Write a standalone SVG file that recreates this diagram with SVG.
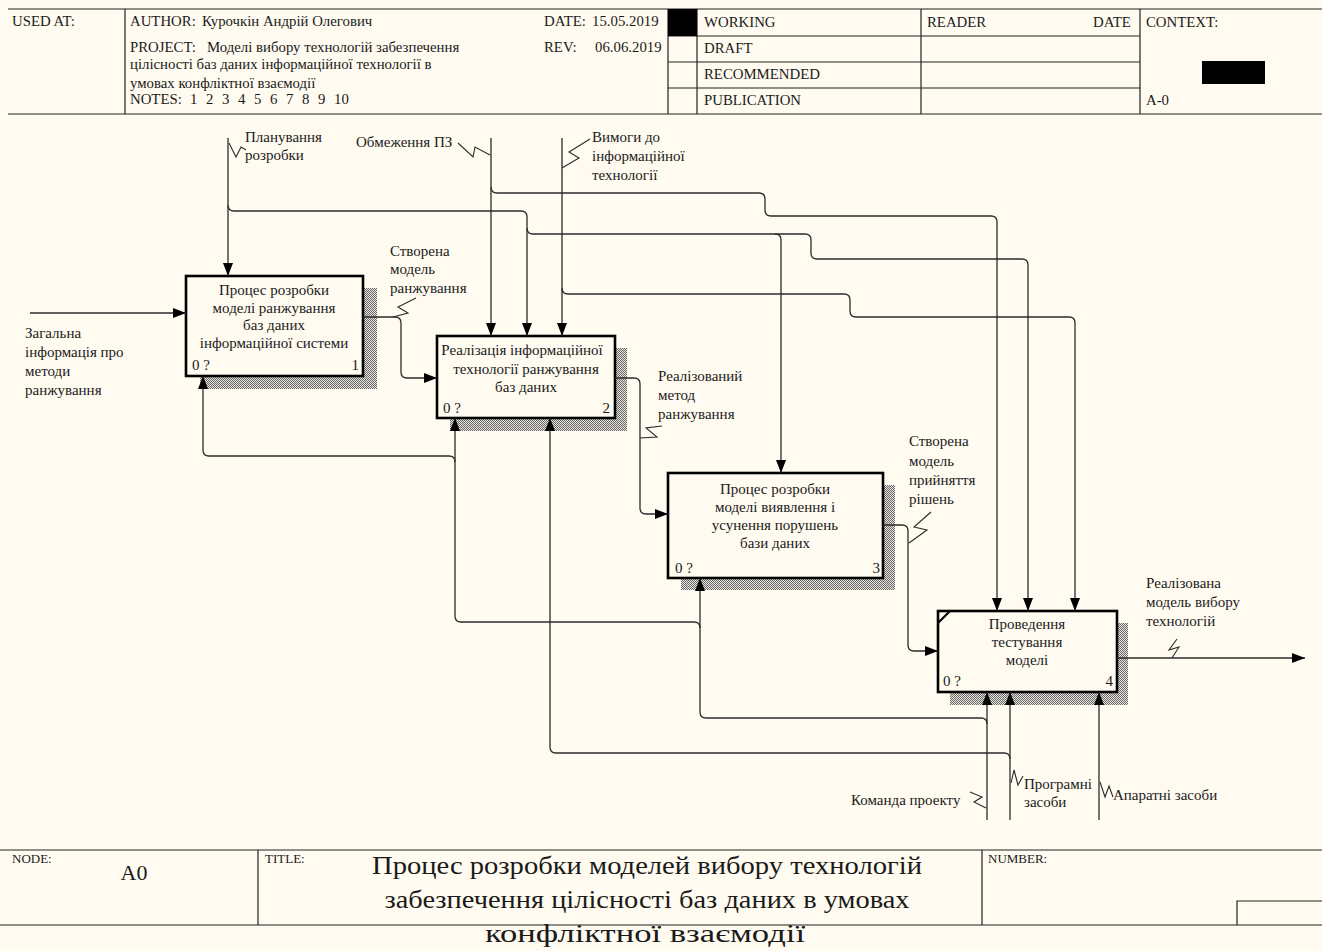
<svg xmlns="http://www.w3.org/2000/svg" width="1322" height="951" viewBox="0 0 1322 951">
  <defs>
    <style>
      .t { font-family: "Liberation Serif", "Times New Roman", serif; font-size: 15px; fill: #1a1a1a; }
      .hd { font-family: "Liberation Serif", "Times New Roman", serif; font-size: 14.8px; fill: #1a1a1a; }
      .ft { font-family: "Liberation Serif", "Times New Roman", serif; font-size: 13px; fill: #1a1a1a; }
      .ttl { font-family: "Liberation Serif", "Times New Roman", serif; font-size: 25px; fill: #1a1a1a; text-anchor: middle; }
      .c { text-anchor: middle; }
      .e { text-anchor: end; }
      .frame { stroke: #222; stroke-width: 1.2; fill: none; }
      .box { fill: #fffbf0; stroke: #000; stroke-width: 2.6; }
      .shadow { fill: url(#hatch); }
      .arrow { fill: none; stroke: #2b2b2b; stroke-width: 1.3; }
      .sq { fill: none; stroke: #2b2b2b; stroke-width: 1.1; }
    </style>
    <pattern id="hatch" width="2" height="2" patternUnits="userSpaceOnUse">
      <rect width="2" height="2" fill="#e6e3dc"/>
      <rect width="1" height="1" fill="#6a6a6a"/>
      <rect x="1" y="1" width="1" height="1" fill="#6a6a6a"/>
    </pattern>
    <marker id="ah" markerWidth="13" markerHeight="10" refX="13" refY="5" orient="auto" markerUnits="userSpaceOnUse">
      <path d="M0,0 L13,5 L0,10 z" fill="#000"/>
    </marker>
  </defs>

  <rect width="1322" height="951" fill="#fffbf0"/>

  <!-- header frame -->
  <g id="header">
    <line class="frame" x1="8" y1="9" x2="1322" y2="9"/>
    <line class="frame" x1="8" y1="114" x2="1322" y2="114"/>
    <line class="frame" x1="125" y1="9" x2="125" y2="114"/>
    <line class="frame" x1="668" y1="9" x2="668" y2="114"/>
    <line class="frame" x1="697" y1="9" x2="697" y2="114"/>
    <line class="frame" x1="921" y1="9" x2="921" y2="114"/>
    <line class="frame" x1="1140" y1="9" x2="1140" y2="114"/>
    <line class="frame" x1="668" y1="36" x2="1140" y2="36"/>
    <line class="frame" x1="668" y1="62" x2="1140" y2="62"/>
    <line class="frame" x1="668" y1="88" x2="1140" y2="88"/>
    <rect x="668" y="9" width="29" height="27" fill="#000"/>
    <rect x="1202" y="61" width="63" height="23" fill="#000"/>

    <text class="hd" x="12" y="26">USED AT:</text>
    <text class="hd" x="130" y="26">AUTHOR:</text>
    <text class="hd" x="202" y="26">Курочкін Андрій Олегович</text>
    <text class="hd" x="130" y="52">PROJECT:</text>
    <text class="hd" x="207" y="52">Моделі вибору технологій забезпечення</text>
    <text class="hd" x="130" y="69">цілісності баз даних інформаційної технології в</text>
    <text class="hd" x="130" y="88">умовах конфліктної взаємодії</text>
    <text class="hd" x="130" y="104">NOTES:</text>
    <text class="hd" y="104"><tspan x="190">1</tspan><tspan x="206">2</tspan><tspan x="222">3</tspan><tspan x="238">4</tspan><tspan x="254">5</tspan><tspan x="270">6</tspan><tspan x="286">7</tspan><tspan x="302">8</tspan><tspan x="318">9</tspan><tspan x="334">10</tspan></text>
    <text class="hd" x="544" y="26">DATE:</text>
    <text class="hd" x="592" y="26">15.05.2019</text>
    <text class="hd" x="544" y="52">REV:</text>
    <text class="hd" x="595" y="52">06.06.2019</text>
    <text class="hd" x="704" y="27">WORKING</text>
    <text class="hd" x="704" y="53">DRAFT</text>
    <text class="hd" x="704" y="79">RECOMMENDED</text>
    <text class="hd" x="704" y="105">PUBLICATION</text>
    <text class="hd" x="927" y="27">READER</text>
    <text class="hd" x="1093" y="27">DATE</text>
    <text class="hd" x="1146" y="27">CONTEXT:</text>
    <text class="hd" x="1146" y="105">A-0</text>
  </g>

  <!-- activity 1 -->
  <g id="node-a1">
    <rect class="shadow" x="200" y="288" width="177" height="101"/>
    <rect class="box" x="186" y="276" width="177" height="100"/>
    <text class="t c" x="274" y="295">Процес розробки</text>
    <text class="t c" x="274" y="313">моделі ранжування</text>
    <text class="t c" x="274" y="330">баз даних</text>
    <text class="t c" x="274" y="348">інформаційної системи</text>
    <text class="t" x="192" y="370">0 ?</text>
    <text class="t e" x="359" y="370">1</text>
  </g>

  <!-- activity 2 -->
  <g id="node-a2">
    <rect class="shadow" x="450" y="348" width="177" height="83"/>
    <rect class="box" x="437" y="336" width="178" height="82"/>
    <text class="t c" x="522" y="355">Реалізація інформаційної</text>
    <text class="t c" x="526" y="374">технології ранжування</text>
    <text class="t c" x="526" y="392">баз даних</text>
    <text class="t" x="443" y="413">0 ?</text>
    <text class="t e" x="610" y="413">2</text>
  </g>

  <!-- activity 3 -->
  <g id="node-a3">
    <rect class="shadow" x="681" y="485" width="214" height="105"/>
    <rect class="box" x="668" y="473" width="215" height="105"/>
    <text class="t c" x="775" y="494">Процес розробки</text>
    <text class="t c" x="775" y="512">моделі виявлення і</text>
    <text class="t c" x="775" y="530">усунення порушень</text>
    <text class="t c" x="775" y="548">бази даних</text>
    <text class="t" x="675" y="573">0 ?</text>
    <text class="t e" x="880" y="573">3</text>
  </g>

  <!-- activity 4 -->
  <g id="node-a4">
    <rect class="shadow" x="950" y="623" width="178" height="82"/>
    <rect class="box" x="938" y="611" width="179" height="81"/>
    <line x1="938" y1="623" x2="950" y2="611" stroke="#000" stroke-width="2.2"/>
    <text class="t c" x="1027" y="629">Проведення</text>
    <text class="t c" x="1027" y="647">тестування</text>
    <text class="t c" x="1027" y="665">моделі</text>
    <text class="t" x="943" y="686">0 ?</text>
    <text class="t e" x="1113" y="686">4</text>
  </g>

  <!-- connectors, drawn over the box shadows -->
  <g id="connectors">
    <!-- input -->
    <path class="arrow" d="M30,313 H186" marker-end="url(#ah)"/>
    <!-- Планування розробки -->
    <path class="arrow" d="M228,138 V276" marker-end="url(#ah)"/>
    <path class="arrow" d="M228,205 Q228,211 234,211 H521 Q527,211 527,217 V336" marker-end="url(#ah)"/>
    <path class="arrow" d="M527,228 Q527,234 533,234 H775 Q781,234 781,240 V473" marker-end="url(#ah)"/>
    <path class="arrow" d="M775,234 H805 Q811,234 811,240 V253 Q811,259 817,259 H1022 Q1028,259 1028,265 V611" marker-end="url(#ah)"/>
    <!-- Обмеження ПЗ -->
    <path class="arrow" d="M491,138 V336" marker-end="url(#ah)"/>
    <path class="arrow" d="M491,187 Q491,193 497,193 H759 Q765,193 765,199 V210 Q765,216 771,216 H991 Q997,216 997,222 V611" marker-end="url(#ah)"/>
    <!-- Вимоги до інформаційної технології -->
    <path class="arrow" d="M562,138 V336" marker-end="url(#ah)"/>
    <path class="arrow" d="M562,288 Q562,294 568,294 H844 Q850,294 850,300 V311 Q850,317 856,317 H1069 Q1075,317 1075,323 V611" marker-end="url(#ah)"/>
    <!-- outputs between activities -->
    <path class="arrow" d="M363,317 H395 Q401,317 401,323 V372 Q401,378 407,378 H437" marker-end="url(#ah)"/>
    <path class="arrow" d="M615,378 H634 Q640,378 640,384 V508 Q640,514 646,514 H668" marker-end="url(#ah)"/>
    <path class="arrow" d="M883,525 H902 Q908,525 908,531 V645 Q908,651 914,651 H938" marker-end="url(#ah)"/>
    <path class="arrow" d="M1117,658 H1305" marker-end="url(#ah)"/>
    <!-- Команда проекту -->
    <path class="arrow" d="M987,820 V692" marker-end="url(#ah)"/>
    <path class="arrow" d="M987,724 Q987,718 981,718 H706 Q700,718 700,712 V578" marker-end="url(#ah)"/>
    <path class="arrow" d="M700,628 Q700,622 694,622 H461 Q455,622 455,616 V418" marker-end="url(#ah)"/>
    <path class="arrow" d="M455,462 Q455,456 449,456 H209 Q203,456 203,450 V376" marker-end="url(#ah)"/>
    <!-- Програмні засоби -->
    <path class="arrow" d="M1010,820 V692" marker-end="url(#ah)"/>
    <path class="arrow" d="M1010,759 Q1010,753 1004,753 H556 Q550,753 550,747 V418" marker-end="url(#ah)"/>
    <!-- Апаратні засоби -->
    <path class="arrow" d="M1099,820 V692" marker-end="url(#ah)"/>

    <!-- label squiggles -->
    <path class="sq" d="M229,143 L236,157 L241,147 L246,150"/>
    <path class="sq" d="M458,143 L473,157 L475,147 L490,155"/>
    <path class="sq" d="M562,168 L579,158 L569,152 L590,139"/>
    <path class="sq" d="M393,317 L408,313 L398,307 L416,298"/>
    <path class="sq" d="M640,438 L657,437 L646,428 L662,426"/>
    <path class="sq" d="M909,543 L927,530 L914,527 L931,512"/>
    <path class="sq" d="M1172,658 L1179,647 L1169,650 L1177,639"/>
    <path class="sq" d="M970,792 L982,797 L974,802 L986,808"/>
    <path class="sq" d="M1011,783 L1014,770 L1018,785 L1023,776"/>
    <path class="sq" d="M1100,782 L1105,797 L1109,786 L1113,797"/>
  </g>

  <!-- connector labels -->
  <g id="labels">
    <text class="t" x="245" y="142">Планування</text>
    <text class="t" x="245" y="160">розробки</text>
    <text class="t" x="356" y="147">Обмеження ПЗ</text>
    <text class="t" x="592" y="142">Вимоги до</text>
    <text class="t" x="592" y="161">інформаційної</text>
    <text class="t" x="592" y="180">технології</text>
    <text class="t" x="390" y="256">Створена</text>
    <text class="t" x="390" y="274">модель</text>
    <text class="t" x="390" y="293">ранжування</text>
    <text class="t" x="25" y="338">Загальна</text>
    <text class="t" x="25" y="357">інформація про</text>
    <text class="t" x="25" y="376">методи</text>
    <text class="t" x="25" y="395">ранжування</text>
    <text class="t" x="658" y="381">Реалізований</text>
    <text class="t" x="658" y="400">метод</text>
    <text class="t" x="658" y="419">ранжування</text>
    <text class="t" x="909" y="446">Створена</text>
    <text class="t" x="909" y="466">модель</text>
    <text class="t" x="909" y="485">прийняття</text>
    <text class="t" x="909" y="504">рішень</text>
    <text class="t" x="1146" y="588">Реалізована</text>
    <text class="t" x="1146" y="607">модель вибору</text>
    <text class="t" x="1146" y="626">технологій</text>
    <text class="t" x="851" y="805">Команда проекту</text>
    <text class="t" x="1024" y="789">Програмні</text>
    <text class="t" x="1024" y="807">засоби</text>
    <text class="t" x="1113" y="800">Апаратні засоби</text>
  </g>

  <!-- footer frame -->
  <g id="footer">
    <line class="frame" x1="0" y1="850" x2="1322" y2="850"/>
    <line class="frame" x1="0" y1="925" x2="1322" y2="925"/>
    <line class="frame" x1="258" y1="850" x2="258" y2="925"/>
    <line class="frame" x1="982" y1="850" x2="982" y2="925"/>
    <polyline class="frame" points="1237,925 1237,901 1322,901"/>
    <text class="ft" x="12" y="863">NODE:</text>
    <text class="ft" x="265" y="863">TITLE:</text>
    <text class="ft" x="988" y="863">NUMBER:</text>
    <text class="t c" x="134" y="880" style="font-size:22px">A0</text>
    <text class="ttl" x="647" y="874" textLength="550" lengthAdjust="spacingAndGlyphs">Процес розробки моделей вибору технологій</text>
    <text class="ttl" x="647" y="908" textLength="525" lengthAdjust="spacingAndGlyphs">забезпечення цілісності баз даних в умовах</text>
    <text class="ttl" x="645" y="942" textLength="320" lengthAdjust="spacingAndGlyphs">конфліктної взаємодії</text>
  </g>
</svg>
